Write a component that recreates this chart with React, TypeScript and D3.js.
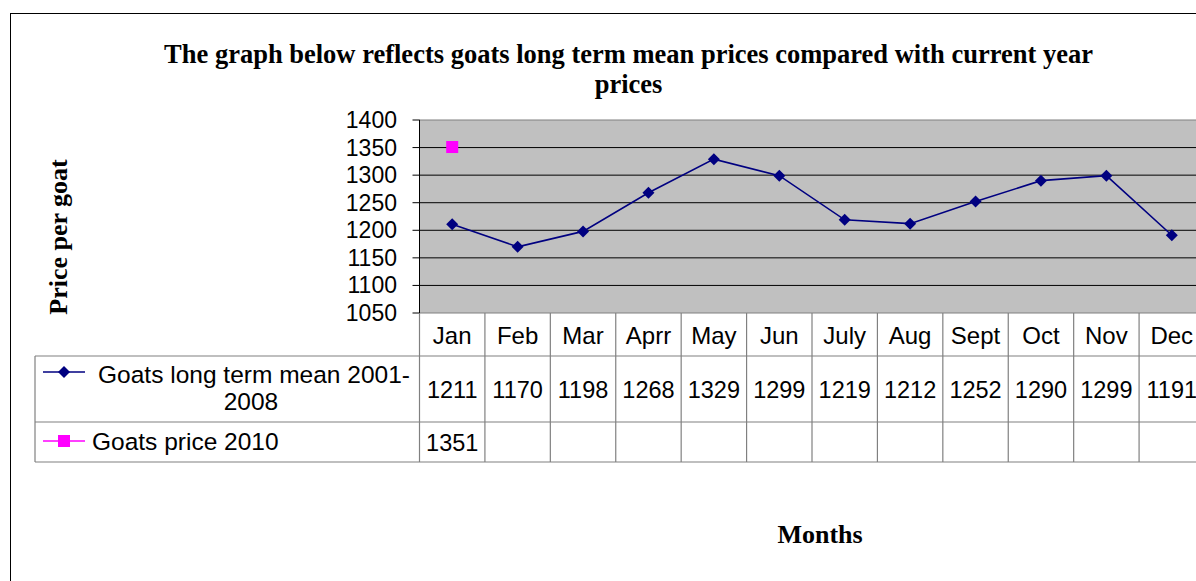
import React from "react";
import * as d3 from "d3";

const months = ["Jan", "Feb", "Mar", "Aprr", "May", "Jun", "July", "Aug", "Sept", "Oct", "Nov", "Dec"];
const longTermMean = [1211, 1170, 1198, 1268, 1329, 1299, 1219, 1212, 1252, 1290, 1299, 1191];
const price2010: (number | null)[] = [1351, null, null, null, null, null, null, null, null, null, null, null];
const yTicks = [1050, 1100, 1150, 1200, 1250, 1300, 1350, 1400];
const seriesNames = ["Goats long term mean 2001-", "2008"];
const series2Name = "Goats price 2010";
const titleLines = ["The graph below reflects goats long term mean prices compared with current year", "prices"];

const W = 1196, H = 581;
const plotL = 419.5, plotR = 1204.5, plotT = 120, plotB = 313;
const tableL = 35;
const rowCat = 356, row1 = 422, row2 = 462;
const sans = "'Liberation Sans', Arial, sans-serif";
const serif = "'Liberation Serif', 'Times New Roman', serif";

export default function App() {
  const x = d3.scaleBand<string>().domain(months).range([plotL, plotR]);
  const y = d3.scaleLinear().domain([1050, 1400]).range([plotB, plotT]);
  const cx = (m: string) => (x(m) as number) + x.bandwidth() / 2;
  const line = d3
    .line<number>()
    .x((_, i) => cx(months[i]))
    .y((d) => y(d));
  const diamond = (px: number, py: number, r = 6) =>
    `M${px},${py - r}L${px + r},${py}L${px},${py + r}L${px - r},${py}Z`;

  return (
    <div style={{ position: "absolute", left: 0, top: 0 }}>
      <svg width={W} height={H} style={{ display: "block", background: "#fff" }}>
        <rect x={10.5} y={13.5} width={1300} height={700} fill="#fff" stroke="#000" strokeWidth={1} />
        {titleLines.map((t, i) => (
          <text key={i} x={628.5} y={63 + i * 30} textAnchor="middle" fontFamily={serif} fontWeight="bold" fontSize={26.5}>
            {t}
          </text>
        ))}
        {/* plot area */}
        <rect x={plotL} y={plotT} width={plotR - plotL} height={plotB - plotT} fill="#C0C0C0" stroke="#808080" strokeWidth={1} />
        {yTicks.filter((t) => t !== 1050 && t !== 1400).map((t) => (
          <line key={t} x1={plotL} x2={plotR} y1={y(t)} y2={y(t)} stroke="#000" strokeWidth={1} />
        ))}
        <line x1={plotL} x2={plotL} y1={plotT} y2={plotB} stroke="#000" strokeWidth={1} />
        {yTicks.map((t) => (
          <g key={t}>
            <line x1={plotL - 7} x2={plotL} y1={y(t)} y2={y(t)} stroke="#000" />
            <text x={397} y={y(t) + 8} textAnchor="end" fontFamily={sans} fontSize={23}>
              {t}
            </text>
          </g>
        ))}
        {/* series 1 */}
        <path d={line(longTermMean) || ""} fill="none" stroke="#000080" strokeWidth={1.6} />
        {longTermMean.map((v, i) => (
          <path key={i} d={diamond(cx(months[i]), y(v))} fill="#000080" />
        ))}
        {/* series 2 */}
        {price2010.map((v, i) =>
          v == null ? null : (
            <rect key={i} x={cx(months[i]) - 6} y={y(v) - 6} width={12} height={12} fill="#FF00FF" />
          )
        )}
        {/* data table */}
        <g stroke="#808080" strokeWidth={1.2} fill="none">
          <line x1={tableL} x2={plotR} y1={rowCat} y2={rowCat} />
          <line x1={tableL} x2={plotR} y1={row1} y2={row1} />
          <line x1={tableL} x2={plotR} y1={row2} y2={row2} />
          <line x1={tableL} x2={tableL} y1={rowCat} y2={row2} />
          {months.map((m) => (
            <line key={m} x1={x(m) as number} x2={x(m) as number} y1={plotB} y2={row2} />
          ))}
          <line x1={plotR} x2={plotR} y1={plotB} y2={row2} />
        </g>
        {months.map((m, i) => (
          <g key={m} fontFamily={sans} textAnchor="middle">
            <text x={cx(m)} y={344} fontSize={24}>{m}</text>
            <text x={cx(m)} y={398} fontSize={23.5}>{longTermMean[i]}</text>
            {price2010[i] != null && <text x={cx(m)} y={451} fontSize={23.5}>{price2010[i]}</text>}
          </g>
        ))}
        {/* legend keys */}
        <line x1={43} x2={85} y1={372} y2={372} stroke="#000080" strokeWidth={1.6} />
        <path d={diamond(64, 372, 6)} fill="#000080" />
        <text x={254} y={383} textAnchor="middle" fontFamily={sans} fontSize={24.5}>{seriesNames[0]}</text>
        <text x={251} y={410} textAnchor="middle" fontFamily={sans} fontSize={24.5}>{seriesNames[1]}</text>
        <line x1={43} x2={85} y1={441} y2={441} stroke="#FF00FF" strokeWidth={1.6} />
        <rect x={58} y={435} width={12} height={12} fill="#FF00FF" />
        <text x={92} y={450} fontFamily={sans} fontSize={24.5}>{series2Name}</text>
        {/* axis titles */}
        <text transform="translate(67,237) rotate(-90)" textAnchor="middle" fontFamily={serif} fontWeight="bold" fontSize={26}>
          Price per goat
        </text>
        <text x={820} y={543} textAnchor="middle" fontFamily={serif} fontWeight="bold" fontSize={26}>
          Months
        </text>
      </svg>
    </div>
  );
}
